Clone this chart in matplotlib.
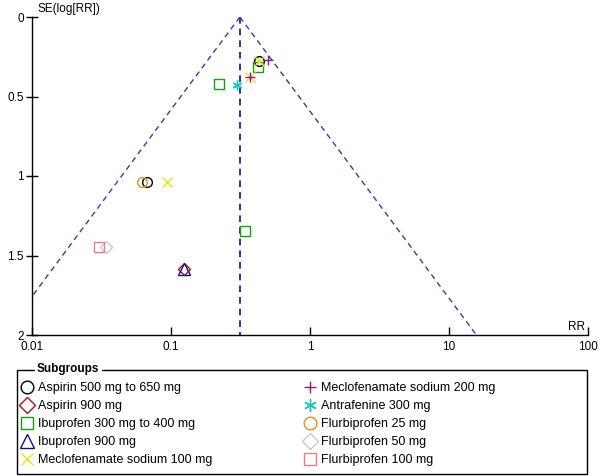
import matplotlib
matplotlib.use("Agg")
import matplotlib.pyplot as plt
import numpy as np
from matplotlib.patches import Rectangle

plt.rcParams['font.family'] = ['Liberation Sans', 'DejaVu Sans']

# ---- data ----
subgroups = [
    "Aspirin 500 mg to 650 mg",
    "Aspirin 900 mg",
    "Ibuprofen 300 mg to 400 mg",
    "Ibuprofen 900 mg",
    "Meclofenamate sodium 100 mg",
    "Meclofenamate sodium 200 mg",
    "Antrafenine 300 mg",
    "Flurbiprofen 25 mg",
    "Flurbiprofen 50 mg",
    "Flurbiprofen 100 mg",
]
markers = ["o", "D", "s", "^", "x", "+", (6, 2, 0), "o", "D", "s"]
colors = ["#000000", "#b01010", "#10a010", "#101090", "#e8e020",
          "#8a1a8a", "#10c8c8", "#f08a20", "#c8c8c8", "#e08080"]

rr_values = [
    [0.428, 0.067],
    [0.123],
    [0.42, 0.22, 0.339],
    [0.123],
    [0.093, 0.368, 0.428],
    [0.497, 0.368],
    [0.297],
    [0.0615],
    [0.0339],
    [0.0302],
]
se_values = [
    [0.277, 1.038],
    [1.585],
    [0.314, 0.421, 1.346],
    [1.585],
    [1.038, 0.377, 0.277],
    [0.270, 0.377],
    [0.428],
    [1.038],
    [1.447],
    [1.447],
]
pooled_rr = 0.312

x_ticks = [0.01, 0.1, 1, 10, 100]
x_tick_labels = ["0.01", "0.1", "1", "10", "100"]
y_ticks = [0, 0.5, 1, 1.5, 2]
y_tick_labels = ["0", "0.5", "1", "1.5", "2"]

# ---- figure ----
W, H = 600, 476
fig = plt.figure(figsize=(W / 100, H / 100), dpi=100)
fig.patch.set_facecolor("white")

left, right, top, bottom = 32.3, 588, 17, 335
ax = fig.add_axes([left / W, 1 - bottom / H, (right - left) / W, (bottom - top) / H])
ax.set_xscale("log")
ax.set_xlim(0.01, 100)
ax.set_ylim(2, 0)
for s in ["top", "right"]:
    ax.spines[s].set_visible(False)
for s in ["left", "bottom"]:
    ax.spines[s].set_linewidth(1.0)
    ax.spines[s].set_color("black")

ax.set_xticks(x_ticks)
ax.set_xticklabels(x_tick_labels)
ax.xaxis.set_minor_locator(matplotlib.ticker.NullLocator())
ax.set_yticks(y_ticks)
ax.set_yticklabels(y_tick_labels)
ax.tick_params(axis="x", direction="in", length=6, width=1, labelsize=8.5, pad=4)
ax.tick_params(axis="y", direction="inout", length=8, width=1, labelsize=8.5, pad=2)

# funnel
se_line = np.array([0.0, 2.0])
ax.plot([pooled_rr, pooled_rr], [0, 2], color="#101080", lw=1.2,
        dashes=(4, 3), clip_on=True)
ax.plot(pooled_rr * np.exp(-1.96 * se_line), se_line, color="#3a3ab0", lw=1.0,
        dashes=(4, 3))
ax.plot(pooled_rr * np.exp(1.96 * se_line), se_line, color="#3a3ab0", lw=1.0,
        dashes=(4, 3))

handles = []
for name, mk, c, xs, ys in zip(subgroups, markers, colors, rr_values, se_values):
    ms = 8 if mk == "^" else 7
    if mk == "D":
        ms = 6
    h, = ax.plot(xs, ys, linestyle="none", marker=mk, markersize=ms,
                 markerfacecolor="none", markeredgecolor=c, markeredgewidth=1.0,
                 color=c, label=name, clip_on=False)
    handles.append(h)

fig.text(37 / W, 1 - 9 / H, "SE(log[RR])", fontsize=8.5, va="center", ha="left")
fig.text(585 / W, 1 - 327 / H, "RR", fontsize=8.5, va="center", ha="right")

# legend box
box = Rectangle((16.5 / W, 1 - 474 / H), (586.5 - 16.5) / W, (474 - 369.5) / H,
                transform=fig.transFigure, fill=False, edgecolor="black", lw=1.0)
fig.patches.append(box)
fig.text(37 / W, 1 - 369 / H, "Subgroups", fontsize=8.5, fontweight="bold",
         va="center", ha="left",
         bbox=dict(facecolor="white", edgecolor="none", pad=1.5))

leg_kw = dict(loc="upper left", frameon=False, fontsize=9, labelspacing=0.49,
              handlelength=1.0, handletextpad=0.35, borderpad=0, markerscale=1.3,
              borderaxespad=0)
fig.legend(handles=handles[:5], bbox_to_anchor=(21 / W, 1 - 382 / H), **leg_kw)
fig.legend(handles=handles[5:], bbox_to_anchor=(304 / W, 1 - 382 / H), **leg_kw)

fig.savefig("out.png", dpi=100, facecolor="white")
